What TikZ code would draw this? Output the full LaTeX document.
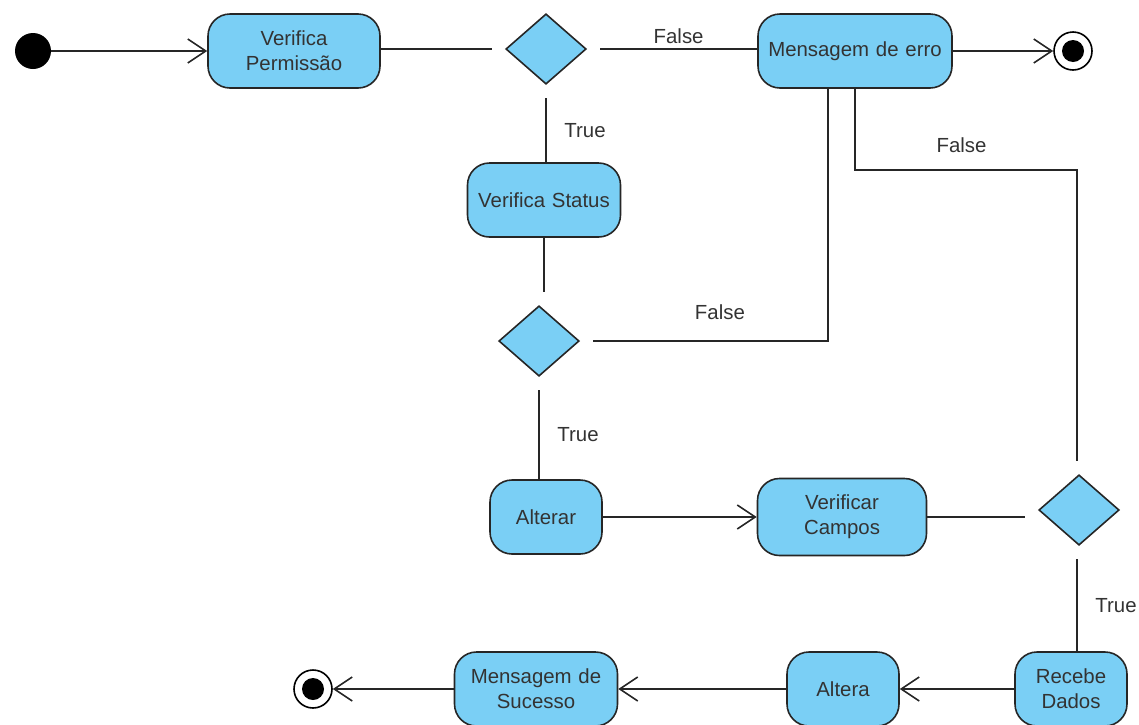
\documentclass[tikz,border=0pt]{standalone}
\usepackage{fontspec}
\setmainfont{Liberation Sans}
\usepackage{xcolor}
\usepackage{tikz}
\usetikzlibrary{shapes.geometric, arrows.meta, positioning}
\definecolor{actfill}{HTML}{7ACFF5}
\definecolor{inkgray}{HTML}{333333}

\begin{document}
\begin{tikzpicture}[
    x=0.5pt, y=-0.5pt,
    font=\fontsize{10.2}{12.5}\selectfont,
    action/.style={rectangle, draw=black!85, fill=actfill, line width=0.8pt, text=inkgray, minimum height=37pt, text width=#1, align=center, rounded corners=11pt, inner sep=0pt},
    action/.default=50pt,
    decision/.style={diamond, draw=black!85, fill=actfill, line width=0.8pt, minimum width=44pt, minimum height=39pt, inner sep=0pt, outer sep=5pt},
    initial/.style={circle, fill=black, minimum size=18pt, inner sep=0pt},
    final/.style={circle, draw=black, line width=0.8pt, minimum size=19pt, inner sep=0pt, path picture={\fill[black] (path picture bounding box.center) circle (5.5pt);}},
    flow/.style={line width=0.8pt, black!85},
    arrow/.style={flow, -{Straight Barb[length=9pt, width=12pt]}},
    guard/.style={text=inkgray}
]
\useasboundingbox (0,0) rectangle (1139,724);

% Top row
\node[initial] (start) at (33,51) {};
\node[action=86pt] (perm) at (294,51) {Verifica\\Permissão};
\node[decision] (chkperm) at (546,49) {};
\node[action=97pt] (erro) at (855,51) {Mensagem de erro};
\node[final] (end1) at (1073,51) {};

% Middle column
\node[action=76.5pt] (status) at (544,200) {Verifica Status};
\node[decision] (chkstatus) at (539,341) {};
\node[action=56pt] (alterar) at (546,517) {Alterar};
\node[action=84.5pt, minimum height=38.5pt] (campos) at (842,517) {Verificar\\Campos};
\node[decision] (chkcampos) at (1079,510) {};
\coordinate (bend) at (1077,170);

% Bottom row
\node[action=56pt] (recebe) at (1071,689) {Recebe\\Dados};
\node[action=56pt] (altera) at (843,689) {Altera};
\node[action=81.5pt] (sucesso) at (536,689) {Mensagem de\\Sucesso};
\node[final] (end2) at (313,689) {};

% Flows
\draw[arrow] (start) -- (perm);
\draw[flow] (perm.east |- chkperm) -- (chkperm);
\draw[flow] (chkperm) -- node[guard, above=-1pt] {False} (chkperm -| erro.west);
\draw[arrow] (erro) -- (end1);
\draw[flow] (chkperm) -- node[guard, right=5.5pt] {True} (chkperm |- status.north);
\draw[flow] (status.south) -- (status.south |- chkstatus.north);
\draw[flow] (chkstatus) -- node[guard, right=5.5pt] {True} (chkstatus |- alterar.north);
\draw[flow] (chkstatus) -| node[guard, pos=0.27, above=7pt] {False} ([xshift=-13.5pt]erro.south);
\draw[flow] (erro.south) |- node[guard, pos=0.74, above=5pt] {False} (bend) -- (bend |- chkcampos.north);
\draw[arrow] (alterar) -- (campos);
\draw[flow] (campos.east) -- (campos.east -| chkcampos.west);
\draw[flow] (chkcampos.south -| bend) -- node[guard, right=5.5pt] {True} (bend |- recebe.north);
\draw[arrow] (recebe) -- (altera);
\draw[arrow] (altera) -- (sucesso);
\draw[arrow] (sucesso) -- (end2);

\end{tikzpicture}
\end{document}
